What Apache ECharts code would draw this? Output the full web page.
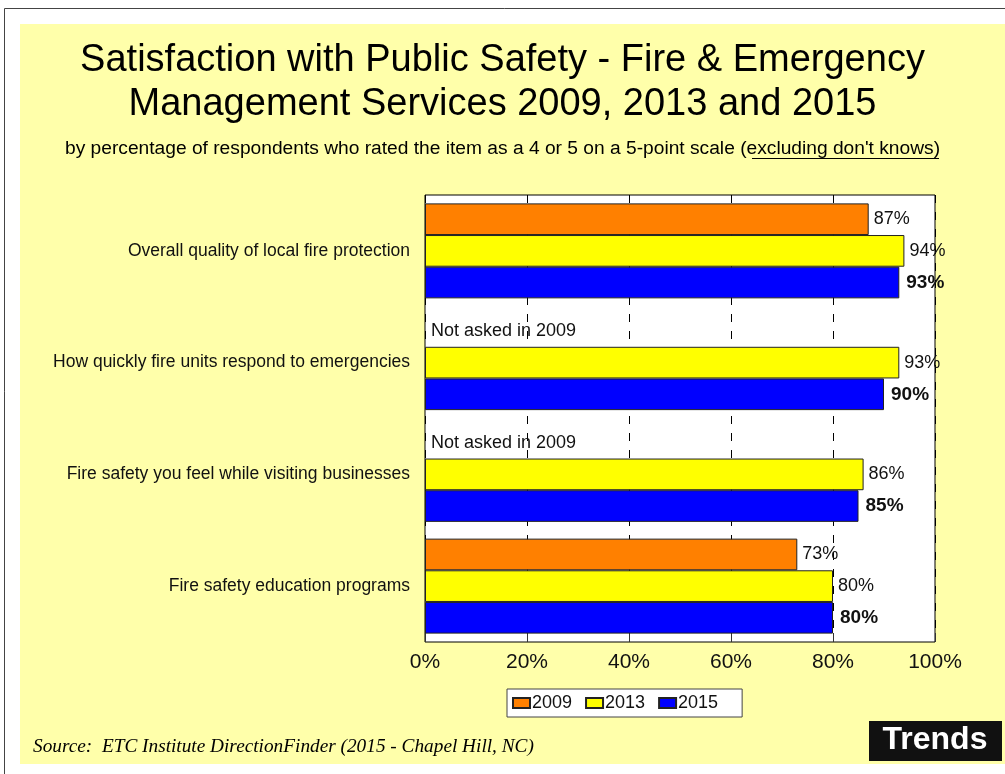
<!DOCTYPE html>
<html>
<head>
<meta charset="utf-8">
<script src="https://cdn.jsdelivr.net/npm/echarts@6/dist/echarts.min.js"></script>
<style>
  html, body { margin: 0; padding: 0; background: #fff; }
  #chart { width: 1005px; height: 774px; }
</style>
</head>
<body>
<div id="chart"></div>
<script>
// items, top to bottom
const categories = [
  'Overall quality of local fire protection',
  'How quickly fire units respond to emergencies',
  'Fire safety you feel while visiting businesses',
  'Fire safety education programs'
];
const years = ['2009', '2013', '2015'];
const values2009 = [87, null, null, 73];
const values2013 = [94, 93, 86, 80];
const values2015 = [93, 90, 85, 80];
const notAskedNote = 'Not asked in 2009';
const xTicks = [0, 20, 40, 60, 80, 100];

const colors = ['#FF8000', '#FFFF00', '#0000FF'];
const FONT = 'Liberation Sans, Arial, Helvetica, sans-serif';

const chart = echarts.init(document.getElementById('chart'));

// years without a 2009 question get a zero-length bar carrying the note
const data2009 = values2009.map(v => v == null
  ? { value: 0, itemStyle: { borderWidth: 0 },
      label: { show: true, formatter: notAskedNote, position: 'right', distance: 6 } }
  : v);

function barSeries(name, data, color, bold) {
  return {
    name,
    type: 'bar',
    data,
    barGap: '0%',
    barCategoryGap: '15%',
    itemStyle: { color, borderColor: '#222', borderWidth: 1 },
    label: {
      show: true,
      position: 'right',
      distance: bold ? 7 : 5,
      formatter: '{c}%',
      color: '#111',
      fontFamily: FONT,
      fontSize: bold ? 19 : 18,
      fontWeight: bold ? 'bold' : 'normal'
    },
    emphasis: { disabled: true }
  };
}

chart.setOption({
  backgroundColor: '#fff',
  animation: false,
  graphic: [
    { type: 'rect', silent: true, z: -10,
      shape: { x: 20, y: 24, width: 985, height: 740 },
      style: { fill: '#FFFFAA' } },
    { type: 'polyline', silent: true, z: -9,
      shape: { points: [[4.5, 774], [4.5, 8.5], [1005, 8.5]] },
      style: { stroke: '#444', lineWidth: 1, fill: null } },
    { type: 'text', left: 'center', top: 39,
      style: {
        text: 'Satisfaction with Public Safety - Fire & Emergency\nManagement Services 2009, 2013 and 2015',
        font: '38px ' + FONT, fill: '#000', textAlign: 'center', lineHeight: 44
      } },
    { type: 'text', left: 'center', top: 139,
      style: {
        text: "by percentage of respondents who rated the item as a 4 or 5 on a 5-point scale (excluding don't knows)",
        font: '19.2px ' + FONT, fill: '#000'
      } },
    { type: 'line', silent: true,
      shape: { x1: 752, y1: 158.5, x2: 939, y2: 158.5 },
      style: { stroke: '#000', lineWidth: 1 } },
    { type: 'text', left: 33, top: 737,
      style: {
        text: 'Source:  ETC Institute DirectionFinder (2015 - Chapel Hill, NC)',
        font: 'italic 19.3px Liberation Serif, Times New Roman, serif', fill: '#000'
      } },
    { type: 'rect', silent: true,
      shape: { x: 869, y: 721, width: 133, height: 40 },
      style: { fill: '#111' } },
    { type: 'text', silent: true,
      style: { x: 935, y: 740, text: 'Trends', font: 'bold 32px ' + FONT, fill: '#fff',
               textAlign: 'center', textVerticalAlign: 'middle' } }
  ],
  legend: {
    data: years,
    left: 507,
    top: 689,
    orient: 'horizontal',
    icon: 'rect',
    itemWidth: 17,
    itemHeight: 10,
    itemGap: 13,
    padding: [5, 24, 5, 5],
    backgroundColor: '#fff',
    borderColor: '#444',
    borderWidth: 1,
    textStyle: { fontFamily: FONT, fontSize: 18, color: '#111', padding: [0, 0, 0, -3] }
  },
  grid: {
    left: 425, right: 70, top: 195, bottom: 132,
    show: true, backgroundColor: '#fff', borderColor: '#000', borderWidth: 1
  },
  xAxis: {
    type: 'value',
    min: xTicks[0],
    max: xTicks[xTicks.length - 1],
    interval: 20,
    axisLine: { show: false },
    axisTick: { show: true, inside: true, length: 9, lineStyle: { color: '#333' } },
    splitLine: { show: true, lineStyle: { color: '#000', type: [8, 9], width: 1 } },
    axisLabel: { formatter: '{value}%', fontFamily: FONT, fontSize: 21, color: '#111', margin: 10 }
  },
  yAxis: {
    type: 'category',
    data: categories,
    inverse: true,
    axisLine: { show: false },
    axisTick: { show: false },
    axisLabel: { fontFamily: FONT, fontSize: 17.5, color: '#111', margin: 15 }
  },
  series: [
    barSeries(years[0], data2009, colors[0], false),
    barSeries(years[1], values2013, colors[1], false),
    barSeries(years[2], values2015, colors[2], true)
  ]
});
</script>
</body>
</html>
